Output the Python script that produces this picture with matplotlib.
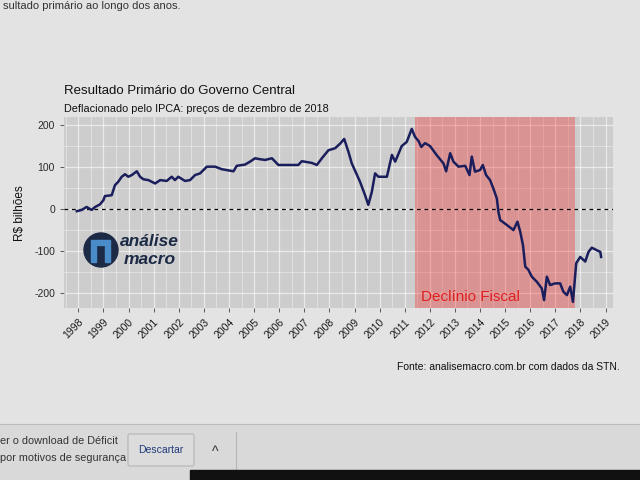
import matplotlib
matplotlib.use("Agg")
import matplotlib.pyplot as plt
from matplotlib.patches import Circle, Rectangle, FancyBboxPatch
import numpy as np

plt.rcParams['font.family'] = ['Liberation Sans', 'DejaVu Sans']

# ---- data (decimal year, R$ bilhões) ----
anos = [1997.94, 1998.14, 1998.33, 1998.53, 1998.67, 1998.86, 1999.00, 1999.06, 1999.33, 1999.46,
        1999.59, 1999.73, 1999.86, 1999.99, 2000.13, 2000.33, 2000.46, 2000.59, 2000.79, 2001.06,
        2001.26, 2001.52, 2001.72, 2001.85, 2001.98, 2002.25, 2002.45, 2002.65, 2002.85, 2003.12,
        2003.45, 2003.71, 2004.18, 2004.31, 2004.64, 2004.84, 2005.04, 2005.21, 2005.44, 2005.71,
        2005.97, 2006.30, 2006.76, 2006.90, 2007.30, 2007.50, 2007.70, 2007.96, 2008.23, 2008.43,
        2008.59, 2008.76, 2008.89, 2009.22, 2009.42, 2009.55, 2009.69, 2009.82, 2009.95, 2010.29,
        2010.49, 2010.62, 2010.74, 2010.88, 2011.08, 2011.28, 2011.41, 2011.55, 2011.66, 2011.81,
        2012.01, 2012.28, 2012.54, 2012.65, 2012.81, 2012.94, 2013.14, 2013.41, 2013.58, 2013.67,
        2013.80, 2014.00, 2014.11, 2014.24, 2014.40, 2014.53, 2014.67, 2014.73, 2014.80, 2015.07,
        2015.33, 2015.49, 2015.60, 2015.71, 2015.80, 2015.93, 2016.06, 2016.26, 2016.46, 2016.55,
        2016.66, 2016.79, 2016.99, 2017.19, 2017.32, 2017.46, 2017.59, 2017.70, 2017.83, 2017.99,
        2018.19, 2018.32, 2018.45, 2018.65, 2018.79, 2018.82]
valores = [-5, -2, 5, -2, 5, 11, 21, 31, 33, 57,
           65, 77, 83, 77, 81, 90, 77, 71, 69, 61,
           69, 67, 77, 69, 77, 67, 69, 81, 85, 101,
           101, 95, 90, 103, 106, 113, 121, 119, 117, 121,
           105, 105, 105, 114, 110, 105, 121, 140, 145, 156,
           167, 136, 109, 65, 33, 10, 41, 85, 77, 77,
           129, 113, 130, 150, 160, 191, 172, 162, 148, 157,
           150, 128, 109, 90, 133, 113, 101, 103, 81, 125,
           89, 93, 105, 81, 69, 49, 25, -6, -26, -38,
           -50, -30, -54, -86, -137, -145, -161, -173, -189, -217,
           -161, -181, -177, -177, -197, -205, -185, -221, -129, -114,
           -125, -102, -92, -98, -102, -114]

declinio_inicio = 2011.4
declinio_fim = 2017.8
anos_ticks = list(range(1998, 2020))
y_ticks = [-200, -100, 0, 100, 200]

titulo = "Resultado Primário do Governo Central"
subtitulo = "Deflacionado pelo IPCA: preços de dezembro de 2018"
fonte = "Fonte: analisemacro.com.br com dados da STN."

fig = plt.figure(figsize=(6.4, 4.8), dpi=100)
fig.patch.set_facecolor('#e3e3e3')

ax = fig.add_axes([0.10, 0.358, 0.858, 0.398])
ax.set_facecolor('#cdcdcd')
ax.set_xlim(1997.43, 2019.30)
ax.set_ylim(-236, 219)

# grid
for y in np.arange(-250, 251, 50):
    ax.axhline(y, color='white', lw=0.9 if y % 100 == 0 else 0.45, alpha=0.6, zorder=0)
for x in np.arange(1997.5, 2019.6, 0.5):
    ax.axvline(x, color='white', lw=0.9 if x == int(x) else 0.45, alpha=0.6, zorder=0)

ax.axvspan(declinio_inicio, declinio_fim, color='red', alpha=0.28, lw=0, zorder=1)
ax.axhline(0, color='black', lw=0.9, ls=(0, (3, 3)), zorder=2)
ax.plot(anos, valores, color='#1b1e5c', lw=1.8, zorder=3)

ax.text((declinio_inicio + 2.2), -210, "Declínio Fiscal", color='#e01f1f', fontsize=11,
        ha='center', va='center', zorder=4)

for s in ax.spines.values():
    s.set_visible(False)
ax.set_xticks(anos_ticks)
ax.set_xticklabels([str(a) for a in anos_ticks], rotation=45, ha='right', rotation_mode='anchor',
                   fontsize=7.5, color='#1a1a1a')
ax.set_yticks(y_ticks)
ax.set_yticklabels([str(v) for v in y_ticks], fontsize=7.5, color='#2a2a2a')
ax.tick_params(axis='both', length=3, color='#444444', width=0.6)
ax.set_ylabel("R$ bilhões", fontsize=8.5, color='#111111', labelpad=6)

# logo
fig_ax = fig.add_axes([0, 0, 1, 1], facecolor='none')
fig_ax.set_xlim(0, 640)
fig_ax.set_ylim(480, 0)
fig_ax.axis('off')
fig_ax.add_patch(Circle((101, 250), 17, color='#1c2a45', zorder=5))
fig_ax.add_patch(Rectangle((91, 246), 5, 16, color='#4a8cc7', zorder=6))
fig_ax.add_patch(Rectangle((105, 246), 5, 16, color='#4a8cc7', zorder=6))
fig_ax.add_patch(Rectangle((91, 240), 19, 5, color='#4a8cc7', zorder=6))
fig_ax.text(120, 241, "análise", fontsize=12.5, fontweight='bold', style='italic',
            color='#1c2a45', va='center', ha='left', zorder=6)
fig_ax.text(124, 259, "macro", fontsize=12.5, fontweight='bold', style='italic',
            color='#1c2a45', va='center', ha='left', zorder=6)

# titles and caption
fig.text(64 / 640, 1 - 91 / 480, titulo, fontsize=9.5, color='#111111', va='center', ha='left')
fig.text(64 / 640, 1 - 109 / 480, subtitulo, fontsize=7.8, color='#111111', va='center', ha='left')
fig.text(620 / 640, 1 - 367 / 480, fonte, fontsize=7.5, color='#111111', va='center', ha='right')

# surrounding page / browser elements from the photo
fig_ax.text(3, 6, "sultado primário ao longo dos anos.", fontsize=8, color='#333333',
            va='center', ha='left')
fig_ax.add_patch(Rectangle((0, 424), 640, 56, color='#d9d9d9', zorder=1))
fig_ax.plot([0, 640], [424, 424], color='#bdbdbd', lw=0.8)
fig_ax.text(0, 441, "er o download de Déficit", fontsize=7.8, color='#333333', va='center')
fig_ax.text(0, 458, "por motivos de segurança", fontsize=7.8, color='#333333', va='center')
fig_ax.add_patch(FancyBboxPatch((128, 434), 66, 32, boxstyle='round,pad=0,rounding_size=2',
                                fc='#dcdcdc', ec='#b5b5b5', lw=0.8, zorder=2))
fig_ax.text(161, 450, "Descartar", fontsize=7.5, color='#1f3a7a', va='center', ha='center', zorder=3)
fig_ax.text(215, 452, "^", fontsize=10, color='#333333', va='center', ha='center', zorder=3)
fig_ax.plot([236, 236], [432, 470], color='#b5b5b5', lw=0.8)
fig_ax.add_patch(Rectangle((190, 470), 450, 10, color='#111111', zorder=2))

fig.savefig("out.png", dpi=100, facecolor=fig.get_facecolor())
